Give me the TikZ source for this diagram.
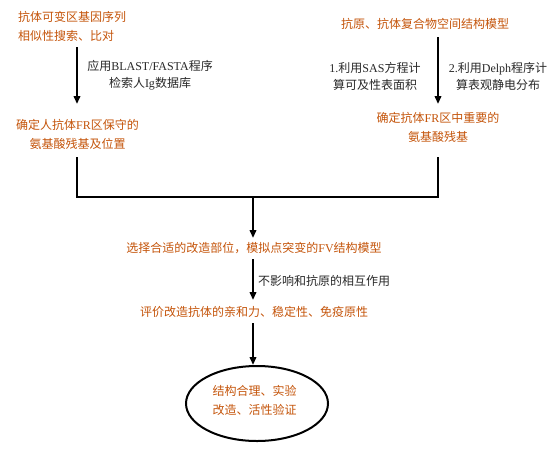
\documentclass[tikz,border=0pt]{standalone}
\usepackage{fontspec}
\setmainfont{Noto Sans CJK SC}
\newfontfamily\latf{Liberation Serif}
\usetikzlibrary{arrows.meta,shapes.geometric}
\definecolor{org}{RGB}{196,84,10}
\definecolor{dk}{RGB}{40,40,40}
\newcommand{\lt}[1]{{\latf #1}}
\tikzset{
  hdr/.style={text=org,font=\fontsize{12}{19}\selectfont,inner sep=0pt},
  note/.style={text=dk,font=\fontsize{12}{17}\selectfont,inner sep=0pt,align=center},
  arr/.style={line width=2.2pt,-{Triangle[length=8pt,width=6.5pt]}},
  ln/.style={line width=2.2pt},
}
\begin{document}
\begin{tikzpicture}[x=1pt,y=-1pt]
\useasboundingbox (0,0) rectangle (553,458);
% text nodes
\node[hdr,align=left,anchor=west] (t1) at (18,26.5) {抗体可变区基因序列\\相似性搜索、比对};
\node[hdr,align=center] (t2) at (77.5,134.5) {确定人抗体\lt{FR}区保守的\\氨基酸残基及位置};
\node[note] (n1) at (150,75.5) {应用\lt{BLAST/FASTA}程序\\检索人\lt{Ig}数据库};
\node[hdr] (r1) at (425,24) {抗原、抗体复合物空间结构模型};
\node[note] (n2) at (375,76.5) {\lt{1.}利用\lt{SAS}方程计\\算可及性表面积};
\node[note] (n3) at (498,76.5) {\lt{2.}利用\lt{Delph}程序计\\算表观静电分布};
\node[hdr,align=center] (r2) at (438,127) {确定抗体\lt{FR}区中重要的\\氨基酸残基};
\node[hdr] (m1) at (254,248) {选择合适的改造部位，模拟点突变的\lt{FV}结构模型};
\node[note,anchor=west] (n4) at (258,281) {不影响和抗原的相互作用};
\node[hdr] (m2) at (254,312) {评价改造抗体的亲和力、稳定性、免疫原性};
\node[draw,ellipse,line width=2pt,minimum width=142pt,minimum height=75pt,inner sep=0pt] (e) at (257,403.5) {};
\node[hdr,align=left] (et) at (254.5,400.5) {结构合理、实验\\改造、活性验证};
% coordinates
\coordinate (a1s) at (77,47);
\coordinate (a1e) at (77,104);
\coordinate (a2s) at (438,37);
\coordinate (a2e) at (438,104);
\coordinate (l1s) at (77,157);
\coordinate (l2s) at (438,157);
\coordinate (jl) at (77,197);
\coordinate (jr) at (438,197);
\coordinate (jc) at (253,197);
\coordinate (a3e) at (253,238);
\coordinate (a4s) at (253,259);
\coordinate (a4e) at (253,300);
\coordinate (a5s) at (253,323);
% connectors
\draw[arr] (a1s) -- (a1e);
\draw[arr] (a2s) -- (a2e);
\draw[ln] (l1s) -- (jl) -- (jr) -- (l2s);
\draw[arr] (jc) -- (a3e);
\draw[arr] (a4s) -- (a4e);
\draw[arr] (a5s) -- (e.north -| a5s);
\end{tikzpicture}
\end{document}
